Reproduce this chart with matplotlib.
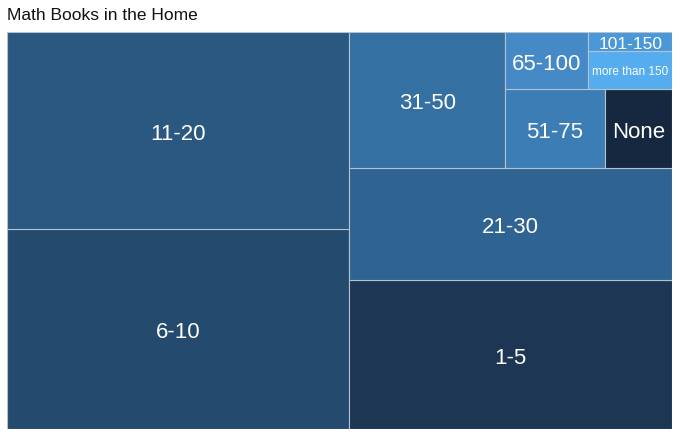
import matplotlib
matplotlib.use('Agg')
import matplotlib.pyplot as plt
from matplotlib.patches import Rectangle

# share of homes (%) per number of math books
labels = ['6-10', '11-20', '1-5', '21-30', '31-50', '51-75', 'None',
          '65-100', 'more than 150', '101-150']
values = [26.0, 25.6, 18.2, 13.8, 8.0, 3.0, 2.0, 1.8, 1.2, 0.6]
colors = ['#244a6e', '#2b5881', '#1c3653', '#2f6391', '#3570a2', '#3c7db6',
          '#152840', '#4589c7', '#55acee', '#4a98d8']

# nesting of the slices: 'h' = side by side, 'v' = stacked bottom to top
layout = ('h', [('v', ['6-10', '11-20']),
                ('v', ['1-5', '21-30',
                       ('h', ['31-50',
                              ('v', [('h', ['51-75', 'None']),
                                     ('h', ['65-100',
                                            ('v', ['more than 150', '101-150'])])])])])])

val = dict(zip(labels, values))
col = dict(zip(labels, colors))


def node_size(node):
    if isinstance(node, str):
        return val[node]
    return sum(node_size(c) for c in node[1])


def place(node, x, y, w, h, out):
    if isinstance(node, str):
        out.append((node, x, y, w, h))
        return
    direction, kids = node
    total = node_size(node)
    pos = 0.0
    for k in kids:
        frac = node_size(k) / total
        if direction == 'h':
            place(k, x + pos * w, y, frac * w, h, out)
        else:
            place(k, x, y + pos * h, w, frac * h, out)
        pos += frac


rects = []
place(layout, 0, 0, 1, 1, rects)

small = {'101-150': 12.5, 'more than 150': 8.5}

fig = plt.figure(figsize=(6.8, 4.37), dpi=100)
ax = fig.add_axes([7 / 680, 8 / 437, 665 / 680, 397 / 437])
for name, x, y, w, h in rects:
    ax.add_patch(Rectangle((x, y), w, h, facecolor=col[name],
                           edgecolor='#b3c2d1', linewidth=0.8))
    fs = small.get(name, 16)
    ax.annotate(name, (x + w / 2, y + h / 2), xytext=(0, -fs * 0.18),
                textcoords='offset points', ha='center', va='center',
                color='white', fontsize=fs, family='Liberation Sans')
ax.set_xlim(0, 1)
ax.set_ylim(0, 1)
ax.axis('off')

fig.text(7 / 680, 1 - 15 / 437, 'Math Books in the Home', ha='left', va='center',
         fontsize=12.5, family='Liberation Sans', color='#111111')

fig.savefig('out.png', dpi=100)
